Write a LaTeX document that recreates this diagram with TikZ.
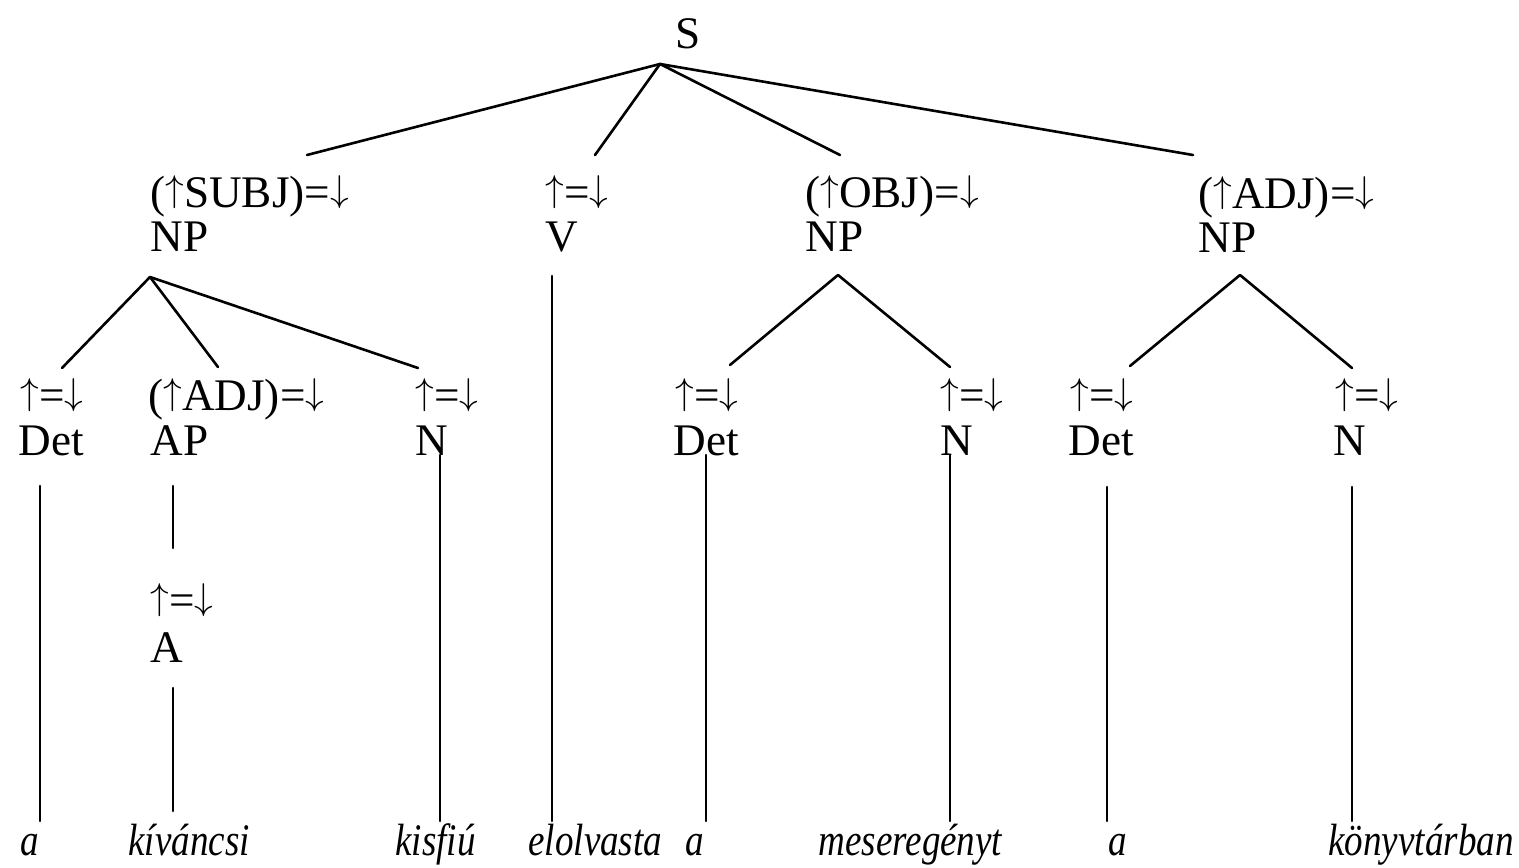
\documentclass[tikz,border=0pt]{standalone}
\usepackage{fontspec}
\usepackage{graphicx}
\setmainfont{Liberation Serif}
\newfontfamily\wordfont[FakeStretch=0.82]{Liberation Serif}
\newcommand\myup{\raisebox{0.13em}{\scalebox{0.9}{$\uparrow$}}}
\newcommand\mydn{\raisebox{0.13em}{\scalebox{0.9}{$\downarrow$}}}
\tikzset{
  lbl/.style={anchor=base west, inner sep=0pt, font=\fontsize{22.6}{26}\selectfont},
  word/.style={anchor=base west, inner sep=0pt, font=\fontsize{22.6}{26}\selectfont\wordfont\itshape},
  branch/.style={line width=1.3pt, line cap=round}
}
\begin{document}
\begin{tikzpicture}[x=0.5pt,y=-0.5pt]
\useasboundingbox (0,0) rectangle (1519,867);
% root
\node[lbl] (S) at (675,48) {S};
% row 1
\node[lbl] (fS) at (150,207) {(\myup SUBJ)=\mydn};
\node[lbl] (cS) at (150,251) {NP};
\node[lbl] (fV) at (545,207) {\myup=\mydn};
\node[lbl] (cV) at (545,251) {V};
\node[lbl] (fO) at (805,207) {(\myup OBJ)=\mydn};
\node[lbl] (cO) at (805,251) {NP};
\node[lbl] (fA) at (1198,208) {(\myup ADJ)=\mydn};
\node[lbl] (cA) at (1198,252) {NP};
% row 2
\node[lbl] (fD1) at (20,410) {\myup=\mydn};
\node[lbl] (cD1) at (18,455) {Det};
\node[lbl] (fAP) at (148,410) {(\myup ADJ)=\mydn};
\node[lbl] (cAP) at (150,455) {AP};
\node[lbl] (fN1) at (415,410) {\myup=\mydn};
\node[lbl] (cN1) at (415,455) {N};
\node[lbl] (fD2) at (675,410) {\myup=\mydn};
\node[lbl] (cD2) at (673,455) {Det};
\node[lbl] (fN2) at (940,410) {\myup=\mydn};
\node[lbl] (cN2) at (940,455) {N};
\node[lbl] (fD3) at (1070,410) {\myup=\mydn};
\node[lbl] (cD3) at (1068,455) {Det};
\node[lbl] (fN3) at (1335,410) {\myup=\mydn};
\node[lbl] (cN3) at (1333,455) {N};
% row A
\node[lbl] (fAA) at (150,615) {\myup=\mydn};
\node[lbl] (cAA) at (150,662) {A};
% words
\node[word] (w1) at (20,855) {a};
\node[word] (w2) at (128,855) {kíváncsi};
\node[word] (w3) at (395,855) {kisfiú};
\node[word] (w4) at (528,855) {elolvasta};
\node[word] (w5) at (685,855) {a};
\node[word] (w6) at (818,855) {meseregényt};
\node[word] (w7) at (1108,855) {a};
\node[word] (w8) at (1328,855) {könyvtárban};
% branch points
\coordinate (Sb) at (660,64);
\coordinate (Ste) at (307,155);
\coordinate (Vt) at (595,155);
\coordinate (Ot) at (840,155);
\coordinate (At) at (1193,155);
\coordinate (NPSb) at (150,277);
\coordinate (D1t) at (62,368);
\coordinate (APt) at (218,367);
\coordinate (N1t) at (418,368);
\coordinate (NPOb) at (838,275);
\coordinate (D2t) at (730,365);
\coordinate (N2t) at (950,367);
\coordinate (NPAb) at (1240,275);
\coordinate (D3t) at (1130,366);
\coordinate (N3t) at (1352,368);
% vertical line ends
\coordinate (D1a) at (40,486);  \coordinate (D1z) at (40,821);
\coordinate (APa) at (173,486); \coordinate (APz) at (173,548);
\coordinate (AAa) at (173,688); \coordinate (AAz) at (173,811);
\coordinate (N1a) at (440,455); \coordinate (N1z) at (440,821);
\coordinate (Va) at (552,276);  \coordinate (Vz) at (552,821);
\coordinate (D2a) at (706,455); \coordinate (D2z) at (706,821);
\coordinate (N2a) at (950,455); \coordinate (N2z) at (950,821);
\coordinate (D3a) at (1107,487); \coordinate (D3z) at (1107,821);
\coordinate (N3a) at (1352,487); \coordinate (N3z) at (1352,821);
% connectors
\draw[branch] (Sb) -- (Ste);
\draw[branch] (Sb) -- (Vt);
\draw[branch] (Sb) -- (Ot);
\draw[branch] (Sb) -- (At);
\draw[branch] (NPSb) -- (D1t);
\draw[branch] (NPSb) -- (APt);
\draw[branch] (NPSb) -- (N1t);
\draw[branch] (NPOb) -- (D2t);
\draw[branch] (NPOb) -- (N2t);
\draw[branch] (NPAb) -- (D3t);
\draw[branch] (NPAb) -- (N3t);
\draw[branch] (D1a) -- (D1z);
\draw[branch] (APa) -- (APz);
\draw[branch] (AAa) -- (AAz);
\draw[branch] (N1a) -- (N1z);
\draw[branch] (Va) -- (Vz);
\draw[branch] (D2a) -- (D2z);
\draw[branch] (N2a) -- (N2z);
\draw[branch] (D3a) -- (D3z);
\draw[branch] (N3a) -- (N3z);
\end{tikzpicture}
\end{document}
